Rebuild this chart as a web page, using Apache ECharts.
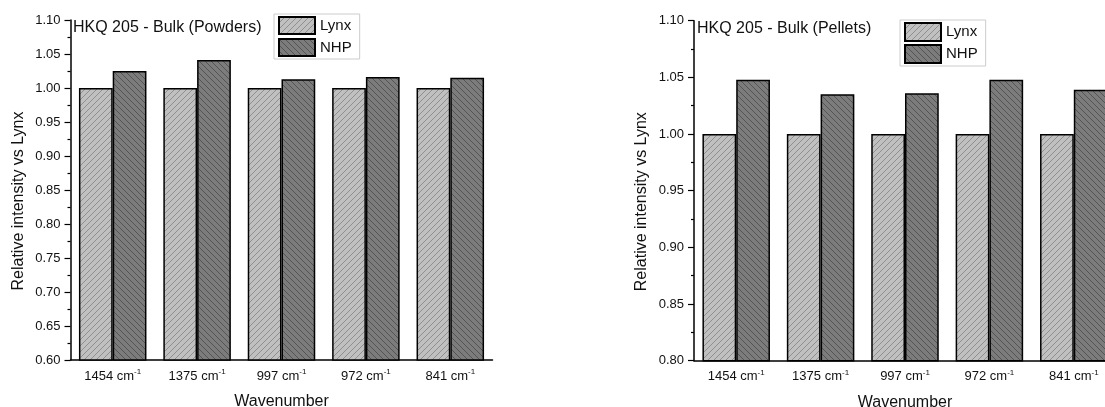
<!DOCTYPE html>
<html>
<head>
<meta charset="utf-8">
<script src="https://cdn.jsdelivr.net/npm/echarts@6/dist/echarts.min.js"></script>
<style>
html,body{margin:0;padding:0;background:#fff;}
#chart{width:1105px;height:407px;}
</style>
</head>
<body>
<div id="chart"></div>
<script>
// ---- data ----
const categories = ['1454', '1375', '997', '972', '841'];
const lynxPowders = [1.000, 1.000, 1.000, 1.000, 1.000];
const nhpPowders = [1.025, 1.041, 1.013, 1.016, 1.015];
const lynxPellets = [1.000, 1.000, 1.000, 1.000, 1.000];
const nhpPellets = [1.048, 1.035, 1.036, 1.048, 1.039];
const titlePowders = 'HKQ 205 - Bulk (Powders)';
const titlePellets = 'HKQ 205 - Bulk (Pellets)';
const yTitle = 'Relative intensity vs Lynx';
const xTitle = 'Wavenumber';

function hatch(bg, fg, dir) {
  const s = 6;
  const c = document.createElement('canvas');
  c.width = s; c.height = s;
  const g = c.getContext('2d');
  g.fillStyle = bg; g.fillRect(0, 0, s, s);
  g.strokeStyle = fg; g.lineWidth = 0.7;
  g.beginPath();
  if (dir > 0) { // "/"
    g.moveTo(-1, s + 1); g.lineTo(s + 1, -1);
    g.moveTo(-1, 1); g.lineTo(1, -1);
    g.moveTo(s - 1, s + 1); g.lineTo(s + 1, s - 1);
  } else { // "\"
    g.moveTo(-1, -1); g.lineTo(s + 1, s + 1);
    g.moveTo(s - 1, -1); g.lineTo(s + 1, 1);
    g.moveTo(-1, s - 1); g.lineTo(1, s + 1);
  }
  g.stroke();
  return { image: c, repeat: 'repeat' };
}
const lynxFill = hatch('#c0c0c0', '#7a7a7a', 1);
const nhpFill = hatch('#7c7c7c', '#444444', -1);

const font = 'Liberation Sans, Arial, sans-serif';

function xAxis(idx) {
  return {
    type: 'category', gridIndex: idx, data: categories,
    axisLine: { lineStyle: { color: '#000', width: 1.5 } },
    axisTick: { show: false },
    axisLabel: {
      interval: 0, margin: 8, color: '#111', fontSize: 13, fontFamily: font, lineHeight: 16,
      formatter: v => v + ' cm{sup|-1}',
      rich: { sup: { fontSize: 8, lineHeight: 8, verticalAlign: 'top', color: '#111', fontFamily: font } }
    },
    name: xTitle, nameLocation: 'middle', nameGap: 34,
    nameTextStyle: { fontSize: 16, color: '#111', fontFamily: font }
  };
}
function yAxis(idx, min) {
  return {
    type: 'value', gridIndex: idx, min: min, max: 1.1, interval: 0.05,
    axisLine: { show: true, lineStyle: { color: '#000', width: 1.5 } },
    axisTick: { show: true, inside: false, length: 6, lineStyle: { color: '#000', width: 1.2 } },
    minorTick: { show: true, splitNumber: 2, length: 3, lineStyle: { color: '#000', width: 1.2 } },
    splitLine: { show: false },
    axisLabel: { margin: 10, color: '#111', fontSize: 13, fontFamily: font, formatter: v => v.toFixed(2) },
    name: yTitle, nameLocation: 'middle', nameGap: 44,
    nameTextStyle: { fontSize: 16, color: '#111', fontFamily: font, padding: [0, 22, 0, 0] }
  };
}
function bar(name, data, idx, fill) {
  return {
    name: name, type: 'bar', xAxisIndex: idx, yAxisIndex: idx, data: data,
    barGap: '0%', barCategoryGap: '20%',
    itemStyle: { color: fill, borderColor: '#000', borderWidth: 1.5 },
    emphasis: { disabled: true },
    animation: false
  };
}

const chart = echarts.init(document.getElementById('chart'), null, { renderer: 'canvas' });
chart.setOption({
  animation: false,
  backgroundColor: '#fff',
  title: [
    { text: titlePowders, left: 73, top: 20, padding: 0, textStyle: { fontSize: 16, fontWeight: 'normal', color: '#111', fontFamily: font } },
    { text: titlePellets, left: 697, top: 21, padding: 0, textStyle: { fontSize: 16, fontWeight: 'normal', color: '#111', fontFamily: font } }
  ],
  legend: [
    { data: ['Lynx', 'NHP'], orient: 'vertical', left: 274, top: 14, itemWidth: 36, itemHeight: 17, itemGap: 3,
      padding: [2, 8, 2, 4], borderColor: '#ccc', borderWidth: 1, icon: 'rect', selectedMode: false,
      textStyle: { fontSize: 15, color: '#111', fontFamily: font } },
    { data: ['Lynx', 'NHP'], orient: 'vertical', left: 900, top: 20, itemWidth: 36, itemHeight: 18, itemGap: 2,
      padding: [2, 8, 2, 4], borderColor: '#ccc', borderWidth: 1, icon: 'rect', selectedMode: false,
      textStyle: { fontSize: 15, color: '#111', fontFamily: font } }
  ],
  grid: [
    { left: 70.5, top: 20, width: 422, height: 340, outerBoundsMode: 'none', containLabel: false },
    { left: 694, top: 20.7, width: 422, height: 340, outerBoundsMode: 'none', containLabel: false }
  ],
  xAxis: [xAxis(0), xAxis(1)],
  yAxis: [yAxis(0, 0.6), yAxis(1, 0.8)],
  series: [
    bar('Lynx', lynxPowders, 0, lynxFill),
    bar('NHP', nhpPowders, 0, nhpFill),
    bar('Lynx', lynxPellets, 1, lynxFill),
    bar('NHP', nhpPellets, 1, nhpFill)
  ]
});
</script>
</body>
</html>
